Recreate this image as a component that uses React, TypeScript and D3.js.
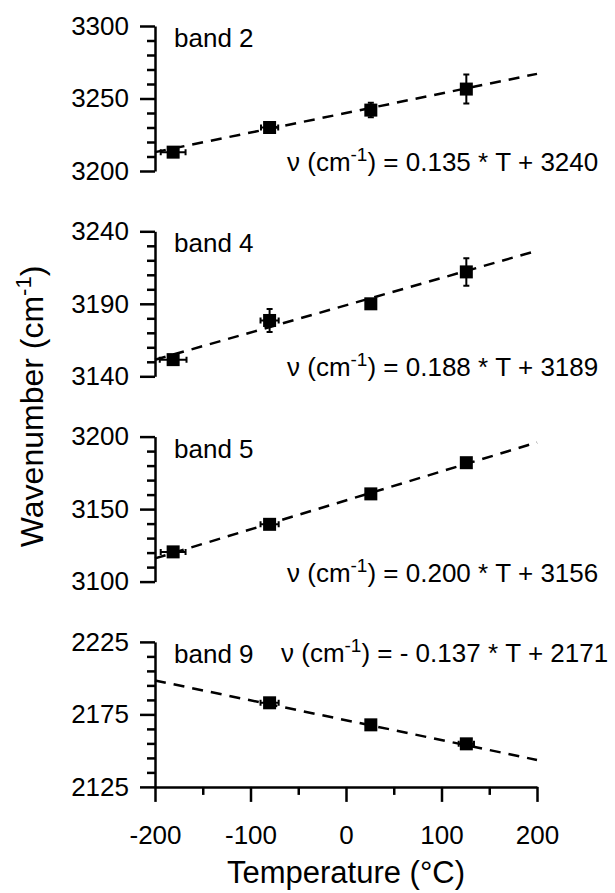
import React, { useEffect, useRef } from 'react';
import * as d3 from 'd3';

// temperatures of the four measurements (°C)
const temps = [-181, -80, 26, 126];

const bandNames = ['band 2', 'band 4', 'band 5', 'band 9'];

// wavenumber of each point, null = not measured
const band2Values = [3213, 3230, 3242, 3256.5];
const band4Values = [3151.5, 3178.5, 3190, 3212];
const band5Values = [3120.5, 3139.5, 3160.5, 3182];
const band9Values = [null, 2183, 2167.8, 2154.7];

// vertical error bars (cm-1)
const band2YErr = [0, 0, 5, 10];
const band4YErr = [0, 8, 0, 9.5];
const band5YErr = [0, 0, 0, 0];
const band9YErr = [0, 0, 0, 0];

// horizontal error bars (°C)
const band2XErr = [13, 9, 0, 0];
const band4XErr = [14, 9.5, 0, 0];
const band5XErr = [13, 9.5, 0, 0];
const band9XErr = [0, 9.5, 0, 8];

// y axis domains and major ticks
const yDomains = [[3200, 3300], [3140, 3240], [3100, 3200], [2125, 2225]];
const yMajorTicks = [
  [3200, 3250, 3300],
  [3140, 3190, 3240],
  [3100, 3150, 3200],
  [2125, 2175, 2225],
];

// linear fits printed on the chart
const fitSlopes = [0.135, 0.188, 0.2, -0.137];
const fitIntercepts = [3240, 3189, 3156, 2171];
const fitLabels = [
  ['\u03bd (cm', ') = 0.135 * T + 3240'],
  ['\u03bd (cm', ') = 0.188 * T + 3189'],
  ['\u03bd (cm', ') = 0.200 * T + 3156'],
  ['\u03bd (cm', ') = - 0.137 * T + 2171'],
];

const xDomain = [-200, 200];
const xMajorTicks = [-200, -100, 0, 100, 200];
const xMinorTicks = [-150, -50, 50, 150];

const W = 615;
const H = 893;
const left = 155;
const right = 537;
const panelTop = 26;
const panelH = 145;
const panelStep = 205.3;
const font = '"Liberation Sans", Arial, Helvetica, sans-serif';

const App = () => {
  const ref = useRef(null);

  useEffect(() => {
    const svg = d3.select(ref.current);
    svg.selectAll('*').remove();

    const x = d3.scaleLinear().domain(xDomain).range([left, right]);

    const allValues = [band2Values, band4Values, band5Values, band9Values];
    const allYErr = [band2YErr, band4YErr, band5YErr, band9YErr];
    const allXErr = [band2XErr, band4XErr, band5XErr, band9XErr];

    allValues.forEach((values, i) => {
      const top = panelTop + i * panelStep;
      const y = d3.scaleLinear().domain(yDomains[i]).range([top + panelH, top]);
      const g = svg.append('g');

      // minor ticks every 10
      const minor = d3.range(yDomains[i][0], yDomains[i][1] + 1, 10)
        .filter(v => !yMajorTicks[i].includes(v));
      g.append('g')
        .attr('transform', `translate(${left},0)`)
        .call(d3.axisLeft(y).tickValues(minor).tickSize(8).tickSizeOuter(0).tickFormat(() => ''))
        .call(a => a.select('.domain').remove())
        .selectAll('line').attr('stroke', '#000').attr('stroke-width', 2.5);

      const yAxis = g.append('g')
        .attr('transform', `translate(${left},0)`)
        .call(d3.axisLeft(y).tickValues(yMajorTicks[i]).tickSize(15).tickSizeOuter(0)
          .tickPadding(11).tickFormat(d3.format('d')));
      yAxis.select('.domain').attr('stroke', '#000').attr('stroke-width', 2.5);
      yAxis.selectAll('line').attr('stroke', '#000').attr('stroke-width', 2.5);
      yAxis.selectAll('text')
        .attr('font-family', font)
        .attr('font-size', 26)
        .attr('fill', '#000');

      // fit line
      const line = d3.line().x(d => x(d)).y(d => y(fitSlopes[i] * d + fitIntercepts[i]));
      g.append('path')
        .attr('d', line(xDomain))
        .attr('fill', 'none')
        .attr('stroke', '#000')
        .attr('stroke-width', 2.5)
        .attr('stroke-dasharray', '11,8');

      const pts = temps.map((t, j) => ({ t, v: values[j], ye: allYErr[i][j], xe: allXErr[i][j] }))
        .filter(d => d.v !== null);

      // error bars
      pts.forEach(d => {
        const cx = x(d.t);
        const cy = y(d.v);
        if (d.ye > 0) {
          const y0 = y(d.v - d.ye);
          const y1 = y(d.v + d.ye);
          g.append('path')
            .attr('d', `M${cx},${y0}V${y1}M${cx - 3},${y0}H${cx + 3}M${cx - 3},${y1}H${cx + 3}`)
            .attr('stroke', '#000').attr('stroke-width', 2).attr('fill', 'none');
        }
        if (d.xe > 0) {
          const x0 = Math.max(x(d.t - d.xe), left);
          const x1 = x(d.t + d.xe);
          g.append('path')
            .attr('d', `M${x0},${cy}H${x1}M${x0},${cy - 3}V${cy + 3}M${x1},${cy - 3}V${cy + 3}`)
            .attr('stroke', '#000').attr('stroke-width', 2).attr('fill', 'none');
        }
      });

      // square markers
      g.selectAll('rect.pt')
        .data(pts)
        .enter()
        .append('rect')
        .attr('class', 'pt')
        .attr('x', d => x(d.t) - 6.5)
        .attr('y', d => y(d.v) - 6.5)
        .attr('width', 13)
        .attr('height', 13)
        .attr('fill', '#000');

      // band name
      g.append('text')
        .attr('x', 174)
        .attr('y', top + 21)
        .attr('font-family', font)
        .attr('font-size', 26)
        .text(bandNames[i]);

      // fit equation
      const eqY = i === 3 ? top + 20 : top + panelH;
      const eq = g.append('text')
        .attr('x', i === 3 ? 281 : 287)
        .attr('y', eqY)
        .attr('font-family', font)
        .attr('font-size', 26);
      eq.append('tspan').text(fitLabels[i][0]);
      eq.append('tspan').attr('dy', -10).attr('font-size', 19).text('-1');
      eq.append('tspan').attr('dy', 10).text(fitLabels[i][1]);
    });

    // x axis on the bottom panel
    const xAxisY = panelTop + 3 * panelStep + panelH;
    svg.append('g')
      .attr('transform', `translate(0,${xAxisY})`)
      .call(d3.axisBottom(x).tickValues(xMinorTicks).tickSize(8).tickFormat(() => ''))
      .call(a => a.select('.domain').remove())
      .selectAll('line').attr('stroke', '#000').attr('stroke-width', 2.5);

    const xAxis = svg.append('g')
      .attr('transform', `translate(0,${xAxisY})`)
      .call(d3.axisBottom(x).tickValues(xMajorTicks).tickSize(15).tickSizeOuter(0)
        .tickPadding(24).tickFormat(d => String(d)));
    xAxis.select('.domain').attr('stroke', '#000').attr('stroke-width', 2.5);
    xAxis.selectAll('line').attr('stroke', '#000').attr('stroke-width', 2.5);
    xAxis.selectAll('text')
      .attr('font-family', font)
      .attr('font-size', 26)
      .attr('fill', '#000');

    // axis titles
    svg.append('text')
      .attr('x', (left + right) / 2)
      .attr('y', 883)
      .attr('text-anchor', 'middle')
      .attr('font-family', font)
      .attr('font-size', 31)
      .text('Temperature (\u00b0C)');

    const yt = svg.append('text')
      .attr('transform', `translate(43,${(panelTop + xAxisY) / 2}) rotate(-90)`)
      .attr('text-anchor', 'middle')
      .attr('font-family', font)
      .attr('font-size', 32);
    yt.append('tspan').text('Wavenumber (cm');
    yt.append('tspan').attr('dy', -12).attr('font-size', 22).text('-1');
    yt.append('tspan').attr('dy', 12).text(')');
  }, []);

  return (
    <svg
      ref={ref}
      width={W}
      height={H}
      style={{ position: 'absolute', left: 0, top: 0, background: '#fff' }}
    />
  );
};

export default App;
